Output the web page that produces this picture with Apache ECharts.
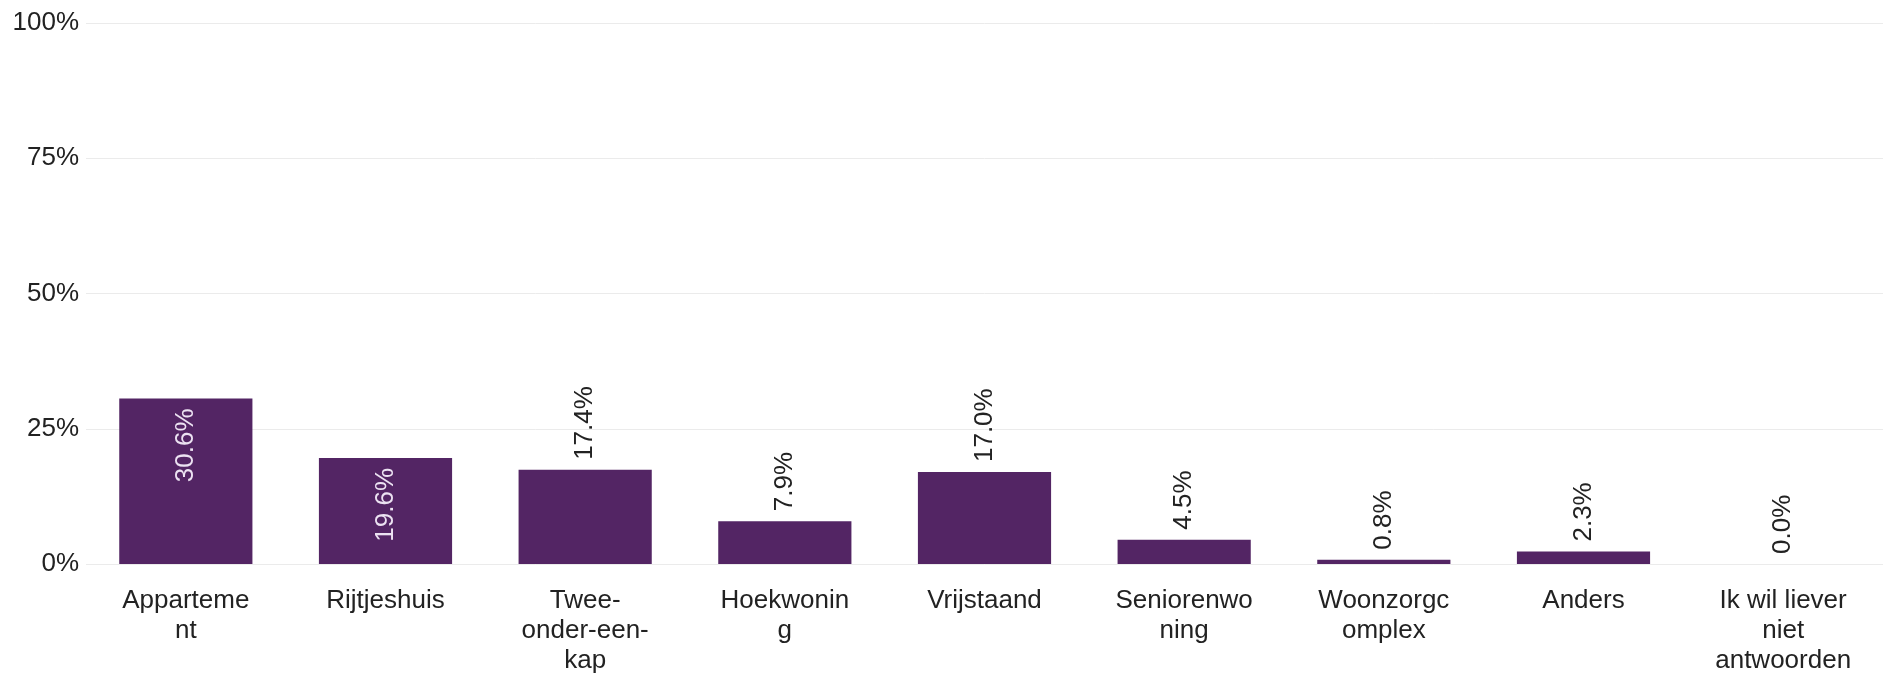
<!DOCTYPE html>
<html>
<head>
<meta charset="utf-8">
<script src="https://cdn.jsdelivr.net/npm/echarts@6/dist/echarts.min.js"></script>
<style>
  html, body { margin: 0; padding: 0; background: #ffffff; }
  #chart { width: 1883px; height: 677px; }
</style>
</head>
<body>
<div id="chart"></div>
<script>
// Woningtype: share of respondents per housing type (%)
const categories = [
  'Appartement', 'Rijtjeshuis', 'Twee-onder-een-kap', 'Hoekwoning',
  'Vrijstaand', 'Seniorenwoning', 'Woonzorgcomplex', 'Anders',
  'Ik wil liever niet antwoorden'
];
const shares = [30.6, 19.6, 17.4, 7.9, 17.0, 4.5, 0.8, 2.3, 0.0];
const yTicks = [0, 25, 50, 75, 100];

const BAR = '#532564';
const TEXT = '#222222';
const FONT = '"Liberation Sans", Arial, sans-serif';
const LABEL_SIZE = 26;
const WRAP_WIDTH = 140;

// Tall bars carry their value inside, the rest above the bar
const INSIDE_MIN = 19;

// Greedy line wrapping: break after hyphens and at spaces,
// split words that are wider than a line character by character.
const measureCtx = document.createElement('canvas').getContext('2d');
measureCtx.font = LABEL_SIZE + 'px ' + FONT;
const w = s => measureCtx.measureText(s).width;

function wrapLabel(text) {
  const tokens = text.match(/[^\s-]+-?|\s+/g) || [];
  const lines = [];
  let line = '';
  const pushChars = word => {
    for (const ch of word) {
      if (w(line + ch) > WRAP_WIDTH && line.trim()) {
        lines.push(line.trim());
        line = ch;
      } else {
        line += ch;
      }
    }
  };
  for (const tok of tokens) {
    if (/^\s+$/.test(tok)) { if (line) line += ' '; continue; }
    if (w(line + tok) <= WRAP_WIDTH) { line += tok; continue; }
    if (line.trim()) { lines.push(line.trim()); line = ''; }
    if (w(tok) <= WRAP_WIDTH) line = tok; else pushChars(tok);
  }
  if (line.trim()) lines.push(line.trim());
  return lines.join('\n');
}

const seriesData = shares.map(v => {
  const inside = v >= INSIDE_MIN;
  return {
    value: v,
    label: inside
      ? { position: 'insideTop', align: 'right', color: '#ece2f2' }
      : { position: 'top', align: 'left', color: TEXT }
  };
});

const chart = echarts.init(document.getElementById('chart'), null, { renderer: 'canvas' });
chart.setOption({
  backgroundColor: '#ffffff',
  animation: false,
  grid: { left: 86, right: 0, top: 23, bottom: 113, containLabel: false },
  xAxis: {
    type: 'category',
    data: categories,
    axisLine: { show: false },
    axisTick: { show: false },
    axisLabel: {
      interval: 0,
      margin: 22,
      color: TEXT,
      fontFamily: FONT,
      fontSize: LABEL_SIZE,
      lineHeight: 30,
      formatter: name => wrapLabel(name)
    }
  },
  yAxis: {
    type: 'value',
    min: yTicks[0],
    max: yTicks[yTicks.length - 1],
    interval: 25,
    axisLine: { show: false },
    axisTick: { show: false },
    splitLine: { lineStyle: { color: '#ebebeb', width: 1 } },
    axisLabel: {
      margin: 7,
      color: TEXT,
      fontFamily: FONT,
      fontSize: LABEL_SIZE,
      formatter: '{value}%'
    }
  },
  series: [{
    type: 'bar',
    data: seriesData,
    barWidth: '66.7%',
    itemStyle: { color: BAR },
    label: {
      show: true,
      rotate: 90,
      distance: 10,
      verticalAlign: 'middle',
      fontFamily: FONT,
      fontSize: LABEL_SIZE,
      formatter: p => p.value.toFixed(1) + '%'
    }
  }]
});
</script>
</body>
</html>
